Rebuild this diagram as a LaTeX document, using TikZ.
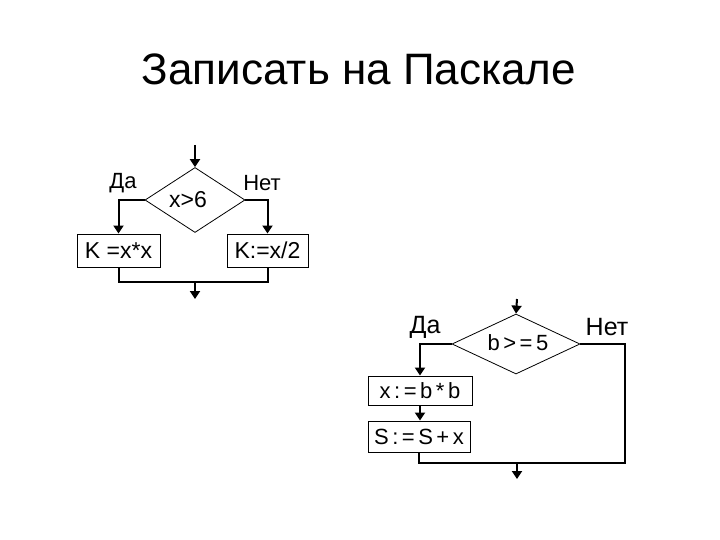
\documentclass[tikz,border=0pt]{standalone}
\usepackage{fontspec}
\setmainfont{Liberation Sans}
\newfontfamily\widefont[LetterSpace=16]{Liberation Sans}
\usepackage{tikz}
\usetikzlibrary{arrows.meta, positioning, shapes.geometric}

\begin{document}
\begin{tikzpicture}[
        x=1pt, y=-1pt,
        decision/.style={
            draw, diamond, inner sep=0pt,
            line width=0.8pt
        },
        action/.style={
            draw, rectangle, inner sep=0pt,
            line width=0.9pt
        },
        line/.style={line width=2pt},
        flow/.style={line width=2pt, -{Triangle[length=8pt, width=10pt]}},
        answer/.style={font=\fontsize{22}{24}\selectfont}
    ]
    \useasboundingbox (0,0) rectangle (720,540);

    \node[anchor=base, font=\fontsize{44}{48}\selectfont] (title) at (359,85) {Записать на Паскале};

    % left example: x>6
    \coordinate (in1) at (195,145);
    \node[decision, minimum width=100pt, minimum height=65pt] (d1) at (195,200) {};
    \node[font=\fontsize{23}{25}\selectfont] (t1) at (188,200) {x>6};
    \node[action, minimum width=83pt, minimum height=33pt] (k1) at (118.5,250.5) {\fontsize{23}{25}\selectfont K =x*x};
    \node[action, minimum width=81pt, minimum height=33pt] (k2) at (267.5,250.5) {\fontsize{23}{25}\selectfont K:=x/2};
    \node[answer] (yes1) at (123,183) {Да};
    \node[answer] (no1) at (262,183) {Нет};
    \coordinate (m1) at (195,282);
    \coordinate (out1) at (195,299);

    \draw[flow] (in1) -- (d1.north);
    \draw[flow] (d1.west) -| (k1.north);
    \draw[flow] (d1.east) -| (k2.north);
    \draw[line] (k1.south) |- (m1) -| (k2.south);
    \draw[flow] (m1) -- (out1);

    % right example: b>=5
    \coordinate (in2) at (517,299);
    \node[decision, minimum width=128pt, minimum height=60pt] (d2) at (516,344) {};
    \node[font=\fontsize{22}{24}\widefont] (t2) at (518,343) {b>=5};
    \node[action, minimum width=104pt, minimum height=29pt] (x2) at (420,390.5) {\fontsize{22}{24}\widefont x:=b*b};
    \node[action, minimum width=102pt, minimum height=31pt] (s2) at (419,436.5) {\fontsize{22}{24}\widefont S:=S+x};
    \node[answer, font=\fontsize{25}{27}\selectfont] (yes2) at (425,327) {Да};
    \node[answer, font=\fontsize{25}{27}\selectfont] (no2) at (607,327) {Нет};
    \coordinate (r2) at (625,344);
    \coordinate (m2) at (517,463);
    \coordinate (out2) at (517,479);

    \draw[flow] (in2) -- (d2.north);
    \draw[flow] (d2.west) -| (x2.north);
    \draw[flow] (x2.south) -- (x2.south |- s2.north);
    \draw[line] (s2.south) |- (m2);
    \draw[line] (d2.east) -- (r2) |- (m2);
    \draw[flow] (m2) -- (out2);
\end{tikzpicture}
\end{document}
